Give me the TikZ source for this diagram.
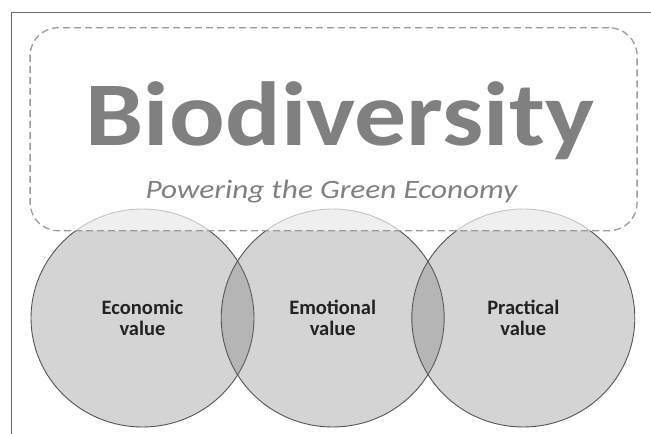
\documentclass[tikz,border=0pt]{standalone}
\usepackage{fontspec}
\setmainfont{Carlito}
\usetikzlibrary{shapes.geometric}
\definecolor{titlegray}{HTML}{808080}
\definecolor{framegray}{HTML}{6A6A6A}
\definecolor{dashgray}{HTML}{9A9A9A}
\definecolor{circleline}{HTML}{555555}
\definecolor{labelcol}{HTML}{222222}
\tikzset{
  valuecircle/.style={ellipse, minimum width=223pt, minimum height=218pt, inner sep=0pt,
    draw=circleline, line width=0.9pt, fill=black!58, fill opacity=0.29, text opacity=1,
    text=labelcol, align=center, font=\fontsize{20.5}{21.6}\selectfont\bfseries},
  banner/.style={rectangle, rounded corners=28pt, minimum width=607pt, minimum height=203pt,
    draw=dashgray, line width=1.3pt, dash pattern=on 7pt off 4pt, fill=white, fill opacity=0.65},
  headline/.style={anchor=base, text=titlegray, inner sep=0pt},
}
\begin{document}
\begin{tikzpicture}[x=1pt,y=-1pt]
\useasboundingbox (0,0) rectangle (651,434);
\coordinate (ftop) at (651,12.5);
\coordinate (fcorner) at (11.5,12.5);
\coordinate (fbottom) at (11.5,434);
\draw[framegray, line width=1pt] (ftop) -- (fcorner) -- (fbottom);
\node[valuecircle] (econ) at (142.5,318) {Economic\\value};
\node[valuecircle] (emot) at (332.7,318) {Emotional\\value};
\node[valuecircle] (prac) at (523.3,318) {Practical\\value};
\node[banner] (box) at (333.6,129.2) {};
\node[headline, font=\fontsize{91}{91}\selectfont\bfseries] (title) at (340,145) {\scalebox{1.14}[1]{Biodiversity}};
\node[headline, font=\fontsize{26.5}{26.5}\selectfont\itshape] (sub) at (331.5,198.3) {\scalebox{1.18}[1]{Powering the Green Economy}};
\end{tikzpicture}
\end{document}
